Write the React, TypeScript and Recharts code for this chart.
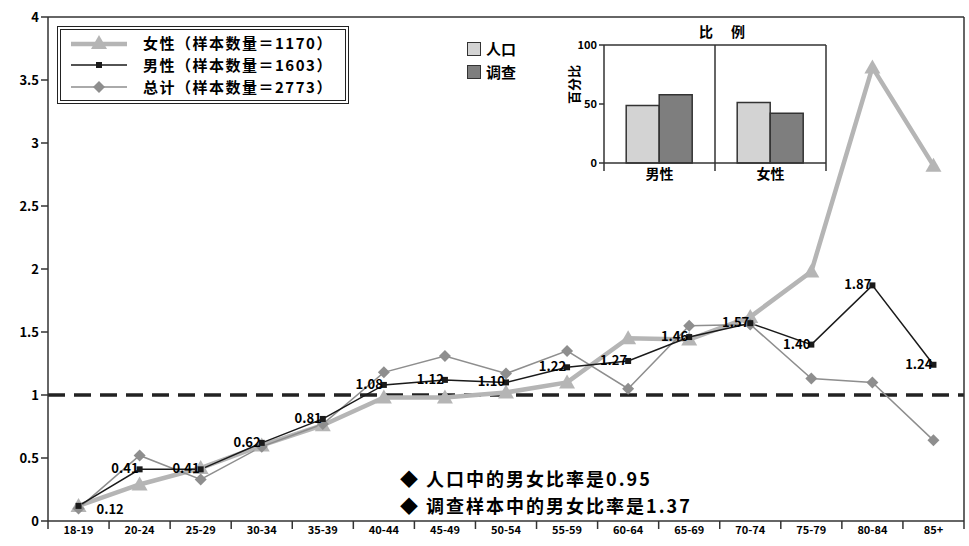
import React from "react";
import {
  ComposedChart,
  BarChart,
  Bar,
  Line,
  XAxis,
  YAxis,
  ReferenceLine,
  CartesianGrid,
  LabelList,
} from "recharts";

// 各年龄组：调查样本占比 / 人口占比
const ageGroups = [
  "18-19", "20-24", "25-29", "30-34", "35-39", "40-44", "45-49", "50-54",
  "55-59", "60-64", "65-69", "70-74", "75-79", "80-84", "85+",
];
const femaleRatio = [0.12, 0.29, 0.42, 0.6, 0.76, 0.98, 0.98, 1.02, 1.1, 1.45, 1.44, 1.62, 1.98, 3.6, 2.82];
const maleRatio = [0.12, 0.41, 0.41, 0.62, 0.81, 1.08, 1.12, 1.1, 1.22, 1.27, 1.46, 1.57, 1.4, 1.87, 1.24];
const totalRatio = [0.1, 0.52, 0.33, 0.59, 0.77, 1.18, 1.31, 1.17, 1.35, 1.05, 1.55, 1.56, 1.13, 1.1, 0.64];
const ratioTicks = [0, 0.5, 1, 1.5, 2, 2.5, 3, 3.5, 4];

// 小图：性别构成（%）
const sexes = ["男性", "女性"];
const populationShare = [48.7, 51.3];
const surveyShare = [57.8, 42.2];
const shareTicks = [0, 50, 100];

const seriesNames = {
  female: "女性（样本数量＝1170）",
  male: "男性（样本数量＝1603）",
  total: "总计（样本数量＝2773）",
};
const notes = ["人口中的男女比率是0.95", "调查样本中的男女比率是1.37"];

const FONT = '"Noto Sans CJK SC", "Noto Sans", sans-serif';
const FEMALE = "#b5b5b5";
const TOTAL = "#8e8e8e";
const INK = "#1a1a1a";

const rows = ageGroups.map((age, i) => ({
  age,
  female: femaleRatio[i],
  male: maleRatio[i],
  total: totalRatio[i],
}));

const shareRows = sexes.map((sex, i) => ({
  sex,
  population: populationShare[i],
  survey: surveyShare[i],
}));

const Triangle = ({ cx, cy }: any) =>
  cx == null ? null : (
    <polygon points={`${cx},${cy - 8} ${cx - 8},${cy + 6} ${cx + 8},${cy + 6}`} fill={FEMALE} />
  );

const Diamond = ({ cx, cy }: any) =>
  cx == null ? null : (
    <polygon points={`${cx},${cy - 6} ${cx + 6},${cy} ${cx},${cy + 6} ${cx - 6},${cy}`} fill={TOTAL} />
  );

const Square = ({ cx, cy }: any) =>
  cx == null ? null : <rect x={cx - 3} y={cy - 3} width={6} height={6} fill={INK} />;

const MaleLabel = ({ x, y, value, index }: any) => {
  const first = index === 0;
  return (
    <text
      x={first ? x + 18 : x - 1}
      y={first ? y + 8 : y + 4}
      textAnchor={first ? "start" : "end"}
      fontSize={13}
      fontWeight={700}
      fontFamily={FONT}
      fill="#000"
    >
      {Number(value).toFixed(2)}
    </text>
  );
};

// 类目标签在中间，刻度线画在类目分界处
const makeBandTick = (count: number, fontSize: number) => (props: any) => {
  const { x, y, payload, index, width } = props;
  const half = (width || 916) / count / 2;
  return (
    <g>
      <line x1={x - half} y1={y} x2={x - half} y2={y + 8} stroke="#333" strokeWidth={1.5} />
      {index === count - 1 && (
        <line x1={x + half} y1={y} x2={x + half} y2={y + 8} stroke="#333" strokeWidth={1.5} />
      )}
      <text
        x={x}
        y={y + fontSize + 2}
        textAnchor="middle"
        fontSize={fontSize}
        fontWeight={700}
        fontFamily={FONT}
        fill="#000"
      >
        {payload.value}
      </text>
    </g>
  );
};

const AgeTick = makeBandTick(ageGroups.length, 11);
const SexTick = makeBandTick(sexes.length, 14);

const LegendSample = ({ kind }: { kind: "female" | "male" | "total" }) => (
  <svg width={60} height={16} style={{ display: "block" }}>
    {kind === "female" && (
      <>
        <line x1={2} y1={9} x2={58} y2={9} stroke={FEMALE} strokeWidth={4.5} />
        <Triangle cx={30} cy={8} />
      </>
    )}
    {kind === "male" && (
      <>
        <line x1={2} y1={8} x2={58} y2={8} stroke={INK} strokeWidth={1.5} />
        <Square cx={30} cy={8} />
      </>
    )}
    {kind === "total" && (
      <>
        <line x1={2} y1={8} x2={58} y2={8} stroke={TOTAL} strokeWidth={1.5} />
        <Diamond cx={30} cy={8} />
      </>
    )}
  </svg>
);

const axisStroke = { stroke: "#333", strokeWidth: 1.5 };
const tickText = { fontSize: 13, fontWeight: 700, fill: "#000", fontFamily: FONT };

export default function App() {
  return (
    <div
      style={{
        position: "absolute",
        left: 0,
        top: 0,
        width: 969,
        height: 546,
        background: "#fff",
        fontFamily: FONT,
        overflow: "hidden",
      }}
    >
      <ComposedChart width={969} height={546} data={rows} margin={{ top: 16, right: 4, left: 8, bottom: 0 }}>
        <XAxis
          dataKey="age"
          scale="band"
          height={25}
          interval={0}
          tickSize={0}
          tickMargin={0}
          tickLine={false}
          axisLine={axisStroke}
          tick={<AgeTick />}
        />
        {/* 上边框与右边框 */}
        <XAxis
          xAxisId="frame"
          dataKey="age"
          scale="band"
          orientation="top"
          height={1}
          tick={false}
          tickLine={false}
          axisLine={axisStroke}
        />
        <YAxis
          domain={[0, 4]}
          ticks={ratioTicks}
          interval={0}
          width={40}
          tickSize={7}
          axisLine={axisStroke}
          tickLine={axisStroke}
          tick={tickText}
        />
        <YAxis
          yAxisId="frame"
          orientation="right"
          domain={[0, 4]}
          width={1}
          tick={false}
          tickLine={false}
          axisLine={axisStroke}
        />
        <ReferenceLine y={1} stroke="#222" strokeWidth={3.5} strokeDasharray="17 9" />
        <Line
          dataKey="female"
          stroke={FEMALE}
          strokeWidth={4.5}
          dot={<Triangle />}
          activeDot={false}
          isAnimationActive={false}
        />
        <Line
          dataKey="total"
          stroke={TOTAL}
          strokeWidth={1.5}
          dot={<Diamond />}
          activeDot={false}
          isAnimationActive={false}
        />
        <Line
          dataKey="male"
          stroke={INK}
          strokeWidth={1.5}
          dot={<Square />}
          activeDot={false}
          isAnimationActive={false}
        >
          <LabelList dataKey="male" content={<MaleLabel />} />
        </Line>
      </ComposedChart>

      {/* 折线图例 */}
      <div
        style={{
          position: "absolute",
          left: 57,
          top: 26,
          width: 276,
          height: 68,
          border: "4px double #222",
          padding: "2px 0 0 8px",
          boxSizing: "content-box",
        }}
      >
        {(["female", "male", "total"] as const).map((k) => (
          <div key={k} style={{ display: "flex", alignItems: "center", height: 22 }}>
            <LegendSample kind={k} />
            <span
              style={{
                marginLeft: 14,
                fontSize: 15,
                lineHeight: "22px",
                fontWeight: 700,
                letterSpacing: 1.5,
                color: "#000",
                whiteSpace: "nowrap",
              }}
            >
              {seriesNames[k]}
            </span>
          </div>
        ))}
      </div>

      {/* 性别构成小图 */}
      <div style={{ position: "absolute", left: 440, top: 20 }}>
        <BarChart
          width={400}
          height={180}
          data={shareRows}
          margin={{ top: 24, right: 13, left: 124, bottom: 12 }}
          barCategoryGap="20%"
          barGap={0}
        >
          <CartesianGrid
            horizontal={false}
            verticalCoordinatesGenerator={({ offset }: any) => [offset.left + offset.width / 2]}
            stroke="#333"
            strokeWidth={1.5}
          />
          <XAxis
            dataKey="sex"
            height={25}
            interval={0}
            tickSize={0}
            tickMargin={0}
            tickLine={false}
            axisLine={axisStroke}
            tick={<SexTick />}
          />
          <XAxis
            xAxisId="frame"
            dataKey="sex"
            orientation="top"
            height={1}
            tick={false}
            tickLine={false}
            axisLine={axisStroke}
          />
          <YAxis
            domain={[0, 100]}
            ticks={shareTicks}
            interval={0}
            width={40}
            tickSize={5}
            axisLine={axisStroke}
            tickLine={axisStroke}
            tick={{ ...tickText, fontSize: 11 }}
            label={{
              value: "百分比",
              angle: -90,
              position: "insideLeft",
              offset: 10,
              style: { fontSize: 13, fontWeight: 700, fill: "#000", fontFamily: FONT },
            }}
          />
          <YAxis
            yAxisId="frame"
            orientation="right"
            domain={[0, 100]}
            width={1}
            tick={false}
            tickLine={false}
            axisLine={axisStroke}
          />
          <Bar dataKey="population" fill="#d3d3d3" stroke="#333" strokeWidth={1.5} isAnimationActive={false} />
          <Bar dataKey="survey" fill="#7e7e7e" stroke="#333" strokeWidth={1.5} isAnimationActive={false} />
        </BarChart>
      </div>
      <div
        style={{
          position: "absolute",
          left: 699,
          top: 22,
          fontSize: 14,
          lineHeight: "18px",
          fontWeight: 700,
          letterSpacing: 18,
          color: "#000",
        }}
      >
        比例
      </div>
      {[
        { name: "人口", fill: "#d3d3d3" },
        { name: "调查", fill: "#7e7e7e" },
      ].map((item, i) => (
        <div
          key={item.name}
          style={{ position: "absolute", left: 467, top: 38 + i * 23, display: "flex", alignItems: "center" }}
        >
          <span
            style={{
              width: 12,
              height: 12,
              background: item.fill,
              border: "1.5px solid #333",
              display: "inline-block",
            }}
          />
          <span style={{ marginLeft: 5, fontSize: 15, lineHeight: "22px", fontWeight: 700, color: "#000" }}>
            {item.name}
          </span>
        </div>
      ))}

      {/* 男女比率说明 */}
      {notes.map((t, i) => (
        <div
          key={t}
          style={{
            position: "absolute",
            left: 400,
            top: 465 + i * 27,
            fontSize: 18,
            lineHeight: "26px",
            fontWeight: 700,
            letterSpacing: 2,
            color: "#000",
            whiteSpace: "nowrap",
          }}
        >
          ◆ {t}
        </div>
      ))}
    </div>
  );
}
